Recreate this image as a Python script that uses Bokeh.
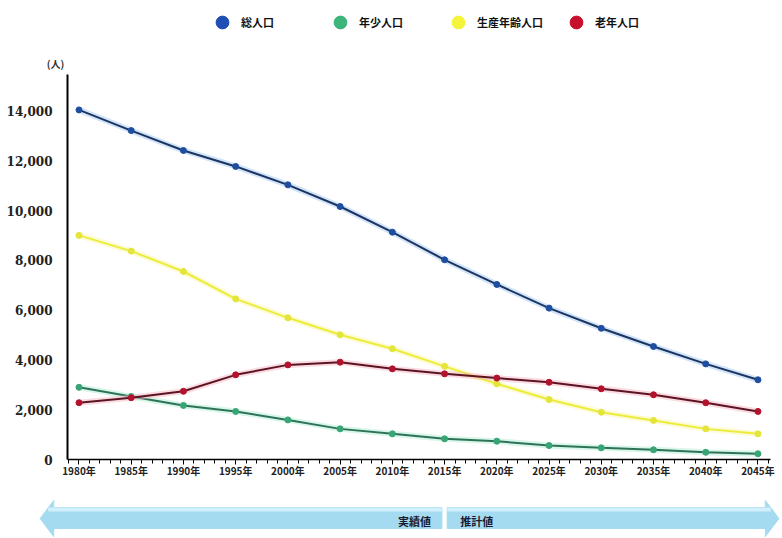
from bokeh.plotting import figure
from bokeh.models import (Range1d, FixedTicker, NumeralTickFormatter, Legend,
                          LegendItem, ColumnDataSource)
from bokeh.core.properties import value
from bokeh.embed import file_html
from bokeh.resources import INLINE

# ---------------- data ----------------
years = [1980, 1985, 1990, 1995, 2000, 2005, 2010, 2015, 2020, 2025, 2030, 2035, 2040, 2045]
total = [14040, 13210, 12410, 11770, 11030, 10160, 9130, 8020, 7030, 6080, 5270, 4540, 3840, 3200]
young = [2900, 2530, 2170, 1930, 1590, 1230, 1030, 830, 735, 560, 470, 390, 290, 230]
working = [9000, 8370, 7550, 6450, 5690, 5010, 4450, 3740, 3040, 2410, 1900, 1570, 1230, 1030]
elderly = [2280, 2480, 2740, 3400, 3800, 3910, 3640, 3440, 3270, 3100, 2840, 2600, 2280, 1930]
series_names = ["総人口", "年少人口", "生産年齢人口", "老年人口"]
y_ticks = [0, 2000, 4000, 6000, 8000, 10000, 12000, 14000]
x_labels = [f"{y}年" for y in years]
unit_label = "(人)"
periods = ["実績値", "推計値"]
boundary_year = 2015

# ---------------- styles ----------------
FONT_JP = "Noto Sans CJK JP"
styles = [
    # halo, core, marker, legend
    ("#9cc3f2", "#1c3560", "#1f4ea0", "#1f4fb5"),
    ("#a9ecd0", "#2e7358", "#38a575", "#3cb47a"),
    ("#f8f6a0", "#ecec3c", "#e4e43a", "#f4f43a"),
    ("#f5b0bf", "#5c1422", "#b3122c", "#c8102e"),
]
values = [total, young, working, elderly]

# ---------------- top strip: legend + unit ----------------
top = figure(width=782, height=74, x_range=Range1d(0, 782), y_range=Range1d(0, 74),
             output_backend="svg", toolbar_location=None,
             x_axis_location=None, y_axis_location=None,
             min_border_left=0, min_border_right=0, min_border_top=0, min_border_bottom=0)
top.outline_line_color = None
top.grid.visible = False
proxies = []
for (_, _, _, lc) in styles:
    # proxy renderer (kept off-screen) only used to draw the legend swatch
    proxies.append(top.scatter(x=[-1000], y=[-1000], marker="circle",
                               fill_color=lc, line_color=lc))
legend = Legend(items=[LegendItem(label=n, renderers=[r]) for n, r in zip(series_names, proxies)],
                orientation="horizontal", location=(206, 36),
                glyph_width=32, glyph_height=32, label_width=80, spacing=3,
                padding=0, margin=0, border_line_color=None,
                background_fill_alpha=0, label_standoff=3,
                label_text_font=FONT_JP, label_text_font_style="bold",
                label_text_font_size="11px", label_text_color="#111111")
top.add_layout(legend, "center")
top.text(x=[55], y=[11], text=[unit_label], text_align="center", text_baseline="middle",
         text_font=value(FONT_JP), text_font_size="10px", text_font_style="bold",
         text_color="#333333")

# ---------------- main chart ----------------
p = figure(width=782, height=416, x_range=Range1d(1978.9, 2046.2),
           y_range=Range1d(0, 15462), output_backend="svg",
           toolbar_location=None, min_border_left=67, min_border_right=12,
           min_border_top=0, min_border_bottom=31)
p.outline_line_color = None
p.grid.visible = False

for vals, (halo, core, mk, _) in zip(values, styles):
    src = ColumnDataSource(dict(x=years, y=vals))
    p.line("x", "y", source=src, line_width=6, line_color=halo, line_alpha=0.45)
    p.line("x", "y", source=src, line_width=2, line_color=core)
    p.scatter("x", "y", source=src, size=6, marker="circle", fill_color=mk, line_color=mk)

p.xaxis.ticker = FixedTicker(ticks=years, minor_ticks=list(range(1979, 2047)))
p.xaxis.major_label_overrides = {y: lab for y, lab in zip(years, x_labels)}
p.xaxis.major_label_text_font = FONT_JP
p.xaxis.major_label_text_font_style = "bold"
p.xaxis.major_label_text_font_size = "10px"
p.xaxis.major_label_text_color = "#222222"
p.xaxis.axis_line_color = "black"
p.xaxis.axis_line_width = 1.5
p.xaxis.major_tick_line_color = "black"
p.xaxis.minor_tick_line_color = "black"
p.xaxis.major_tick_in = 0
p.xaxis.major_tick_out = 5
p.xaxis.minor_tick_in = 0
p.xaxis.minor_tick_out = 4
p.xaxis.major_label_standoff = -2

p.yaxis.ticker = FixedTicker(ticks=y_ticks)
p.yaxis.formatter = NumeralTickFormatter(format="0,0")
p.yaxis.major_label_text_font = "DejaVu Serif"
p.yaxis.major_label_text_font_style = "bold"
p.yaxis.major_label_text_font_size = "12px"
p.yaxis.major_label_text_color = "#222222"
p.yaxis.axis_line_color = "black"
p.yaxis.axis_line_width = 2
p.yaxis.major_tick_line_color = None
p.yaxis.minor_tick_line_color = None
p.yaxis.major_tick_in = 0
p.yaxis.major_tick_out = 0
p.yaxis.major_label_standoff = 15

# ---------------- period arrow ----------------
a = figure(width=782, height=48, x_range=Range1d(1972.51, 2047.34),
           y_range=Range1d(0, 48), output_backend="svg", toolbar_location=None,
           x_axis_location=None, y_axis_location=None,
           min_border_left=0, min_border_right=0, min_border_top=0, min_border_bottom=0)
a.outline_line_color = None
a.grid.visible = False

left_tip, right_tip = 1976.3, 2047.0
head = 1.3
gap = 0.25
band_lo, band_hi, head_lo, head_hi, mid = 10, 31, 2, 38, 20
left_xs = [left_tip, left_tip + head, left_tip + head, boundary_year - gap,
           boundary_year - gap, left_tip + head, left_tip + head]
right_xs = [right_tip, right_tip - head, right_tip - head, boundary_year + gap,
            boundary_year + gap, right_tip - head, right_tip - head]
ys = [mid, head_hi, band_hi, band_hi, band_lo, band_lo, head_lo]
a.patches([left_xs, right_xs], [ys, ys], fill_color="#a4dbf1",
          line_color="#a4dbf1", line_width=1)
a.patches([[left_tip + head * 0.6, boundary_year - gap, boundary_year - gap, left_tip + head * 0.6],
           [boundary_year + gap, right_tip - head * 0.6, right_tip - head * 0.6, boundary_year + gap]],
          [[band_hi, band_hi, band_hi - 4, band_hi - 4], [band_hi, band_hi, band_hi - 4, band_hi - 4]],
          fill_color="#d2f0fb", line_color=None)
a.text(x=[boundary_year - 1.3], y=[18], text=[periods[0]], text_align="right",
       text_baseline="middle", text_font=value(FONT_JP), text_font_size="11px",
       text_font_style="bold", text_color="#1a1a30")
a.text(x=[boundary_year + 1.5], y=[18], text=[periods[1]], text_align="left",
       text_baseline="middle", text_font=value(FONT_JP), text_font_size="11px",
       text_font_style="bold", text_color="#1a1a30")

open("out.html", "w").write(file_html([top, p, a], INLINE))
